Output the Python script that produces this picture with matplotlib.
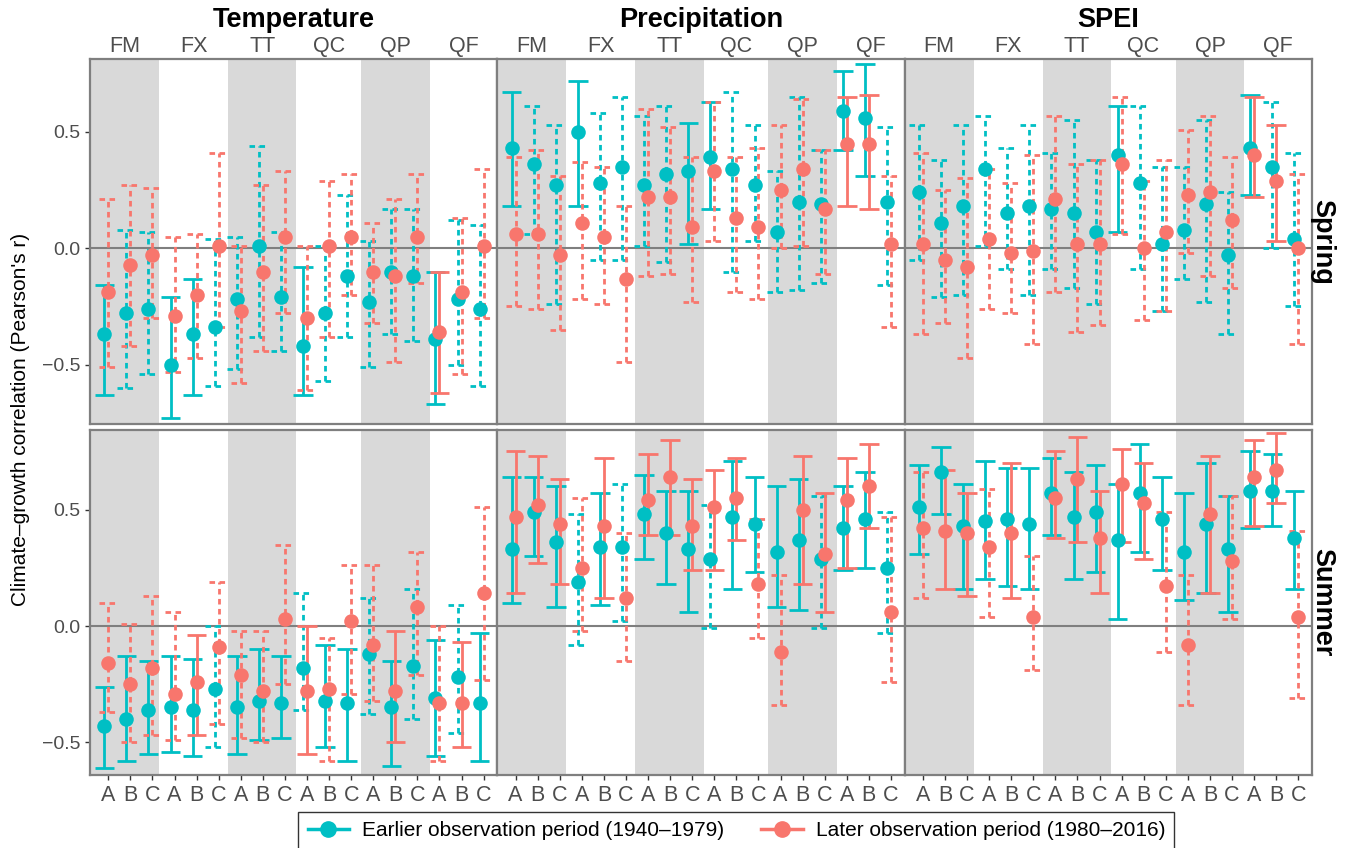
import numpy as np
import matplotlib.pyplot as plt
from matplotlib.lines import Line2D

plt.rcParams['font.family'] = ['Liberation Sans', 'DejaVu Sans']

GROUPS = ["FM", "FX", "TT", "QC", "QP", "QF"]
SITES = ["A", "B", "C"]
VARIABLES = ["Temperature", "Precipitation", "SPEI"]
SEASONS = ["Spring", "Summer"]
PERIODS = ["Earlier observation period (1940–1979)",
           "Later observation period (1980–2016)"]
COLORS = ["#00BFC4", "#F8766D"]

# (r, lower CI, upper CI, solid line?) for FM A,B,C / FX A,B,C / ... / QF A,B,C
spring_temp_early = [
    (-0.37, -0.63, -0.16, 1), (-0.28, -0.60, 0.08, 0), (-0.26, -0.54, 0.07, 0),
    (-0.50, -0.73, -0.21, 1), (-0.37, -0.63, -0.13, 1), (-0.34, -0.59, 0.04, 0),
    (-0.22, -0.52, 0.05, 0), (0.01, -0.38, 0.44, 0), (-0.21, -0.44, 0.07, 0),
    (-0.42, -0.63, -0.08, 1), (-0.28, -0.57, 0.01, 0), (-0.12, -0.38, 0.23, 0),
    (-0.23, -0.51, 0.03, 0), (-0.10, -0.37, 0.17, 0), (-0.12, -0.40, 0.17, 0),
    (-0.39, -0.67, -0.10, 1), (-0.22, -0.50, 0.12, 0), (-0.26, -0.59, 0.10, 0),
]
spring_temp_late = [
    (-0.19, -0.51, 0.21, 0), (-0.07, -0.42, 0.27, 0), (-0.03, -0.30, 0.26, 0),
    (-0.29, -0.53, 0.05, 0), (-0.20, -0.47, 0.06, 0), (0.01, -0.34, 0.41, 0),
    (-0.27, -0.58, 0.01, 0), (-0.10, -0.44, 0.27, 0), (0.05, -0.28, 0.33, 0),
    (-0.30, -0.61, 0.01, 0), (0.01, -0.38, 0.29, 0), (0.05, -0.20, 0.32, 0),
    (-0.10, -0.32, 0.11, 0), (-0.12, -0.49, 0.21, 0), (0.05, -0.15, 0.32, 0),
    (-0.36, -0.62, -0.10, 1), (-0.19, -0.54, 0.13, 0), (0.01, -0.30, 0.34, 0),
]
spring_prec_early = [
    (0.43, 0.18, 0.67, 1), (0.36, 0.06, 0.61, 0), (0.27, -0.24, 0.53, 0),
    (0.50, 0.18, 0.72, 1), (0.28, -0.05, 0.58, 0), (0.35, -0.05, 0.65, 0),
    (0.27, 0.01, 0.57, 0), (0.32, -0.06, 0.61, 0), (0.33, 0.02, 0.54, 1),
    (0.39, 0.17, 0.63, 1), (0.34, -0.10, 0.67, 0), (0.27, 0.03, 0.53, 0),
    (0.07, -0.19, 0.33, 0), (0.20, -0.18, 0.65, 0), (0.19, -0.15, 0.42, 0),
    (0.59, 0.42, 0.76, 1), (0.56, 0.31, 0.79, 1), (0.20, -0.16, 0.52, 0),
]
spring_prec_late = [
    (0.06, -0.25, 0.39, 0), (0.06, -0.26, 0.42, 0), (-0.03, -0.35, 0.31, 0),
    (0.11, -0.22, 0.37, 0), (0.05, -0.24, 0.35, 0), (-0.13, -0.49, 0.18, 0),
    (0.22, -0.12, 0.60, 0), (0.22, -0.11, 0.52, 0), (0.09, -0.23, 0.39, 0),
    (0.33, 0.03, 0.63, 0), (0.13, -0.19, 0.39, 0), (0.09, -0.22, 0.43, 0),
    (0.25, 0.00, 0.53, 0), (0.34, 0.01, 0.64, 0), (0.17, -0.11, 0.42, 0),
    (0.45, 0.18, 0.65, 1), (0.45, 0.17, 0.66, 1), (0.02, -0.34, 0.31, 0),
]
spring_spei_early = [
    (0.24, -0.05, 0.53, 0), (0.11, -0.21, 0.38, 0), (0.18, -0.20, 0.53, 0),
    (0.34, 0.01, 0.57, 0), (0.15, -0.09, 0.43, 0), (0.18, -0.20, 0.53, 0),
    (0.17, -0.09, 0.41, 0), (0.15, -0.17, 0.55, 0), (0.07, -0.24, 0.38, 0),
    (0.40, 0.07, 0.61, 1), (0.28, -0.09, 0.61, 0), (0.02, -0.27, 0.35, 0),
    (0.08, -0.13, 0.35, 0), (0.19, -0.23, 0.55, 0), (-0.03, -0.37, 0.24, 0),
    (0.43, 0.23, 0.66, 1), (0.35, 0.00, 0.63, 0), (0.04, -0.25, 0.41, 0),
]
spring_spei_late = [
    (0.02, -0.37, 0.41, 0), (-0.05, -0.32, 0.25, 0), (-0.08, -0.47, 0.30, 0),
    (0.04, -0.26, 0.34, 0), (-0.02, -0.28, 0.28, 0), (-0.01, -0.41, 0.40, 0),
    (0.21, -0.19, 0.57, 0), (0.02, -0.36, 0.36, 0), (0.02, -0.33, 0.38, 0),
    (0.36, 0.06, 0.65, 0), (0.00, -0.31, 0.29, 0), (0.07, -0.27, 0.38, 0),
    (0.23, -0.02, 0.51, 0), (0.24, -0.12, 0.57, 0), (0.12, -0.17, 0.39, 0),
    (0.40, 0.22, 0.65, 1), (0.29, 0.03, 0.53, 1), (0.00, -0.41, 0.32, 0),
]
summer_temp_early = [
    (-0.43, -0.61, -0.26, 1), (-0.40, -0.58, -0.13, 1), (-0.36, -0.55, -0.15, 1),
    (-0.35, -0.54, -0.13, 1), (-0.36, -0.56, -0.14, 1), (-0.27, -0.52, 0.00, 0),
    (-0.35, -0.55, -0.13, 1), (-0.32, -0.49, -0.10, 1), (-0.33, -0.48, -0.13, 1),
    (-0.18, -0.36, 0.14, 0), (-0.32, -0.52, -0.08, 1), (-0.33, -0.58, -0.10, 1),
    (-0.12, -0.38, 0.12, 0), (-0.35, -0.60, -0.15, 1), (-0.17, -0.40, 0.16, 0),
    (-0.31, -0.56, -0.06, 1), (-0.22, -0.46, 0.09, 0), (-0.33, -0.58, -0.03, 1),
]
summer_temp_late = [
    (-0.16, -0.37, 0.10, 0), (-0.25, -0.50, 0.01, 0), (-0.18, -0.47, 0.13, 0),
    (-0.29, -0.49, 0.06, 0), (-0.24, -0.47, -0.04, 1), (-0.09, -0.42, 0.19, 0),
    (-0.21, -0.48, -0.02, 0), (-0.28, -0.50, -0.02, 0), (0.03, -0.25, 0.35, 0),
    (-0.28, -0.55, 0.00, 1), (-0.27, -0.58, -0.05, 0), (0.02, -0.29, 0.26, 0),
    (-0.08, -0.32, 0.26, 0), (-0.28, -0.50, -0.02, 1), (0.08, -0.21, 0.32, 0),
    (-0.33, -0.58, 0.00, 0), (-0.33, -0.52, -0.07, 1), (0.14, -0.23, 0.51, 0),
]
summer_prec_early = [
    (0.33, 0.10, 0.64, 1), (0.49, 0.30, 0.64, 1), (0.36, 0.08, 0.60, 1),
    (0.19, -0.08, 0.48, 0), (0.34, 0.09, 0.57, 1), (0.34, 0.02, 0.61, 0),
    (0.48, 0.29, 0.65, 1), (0.40, 0.18, 0.58, 1), (0.33, 0.06, 0.58, 1),
    (0.29, -0.01, 0.52, 0), (0.47, 0.16, 0.71, 1), (0.44, 0.23, 0.64, 1),
    (0.32, 0.08, 0.60, 1), (0.37, 0.07, 0.63, 1), (0.29, -0.01, 0.56, 0),
    (0.42, 0.24, 0.60, 1), (0.46, 0.25, 0.66, 1), (0.25, -0.03, 0.49, 0),
]
summer_prec_late = [
    (0.47, 0.14, 0.75, 1), (0.52, 0.27, 0.73, 1), (0.44, 0.18, 0.63, 1),
    (0.25, -0.02, 0.55, 0), (0.43, 0.12, 0.72, 1), (0.12, -0.15, 0.40, 0),
    (0.54, 0.39, 0.74, 1), (0.64, 0.39, 0.80, 1), (0.43, 0.24, 0.63, 1),
    (0.51, 0.24, 0.67, 1), (0.55, 0.37, 0.72, 1), (0.18, -0.05, 0.46, 0),
    (-0.11, -0.34, 0.22, 0), (0.50, 0.18, 0.73, 1), (0.31, 0.06, 0.57, 1),
    (0.54, 0.25, 0.72, 1), (0.60, 0.42, 0.78, 1), (0.06, -0.24, 0.47, 0),
]
summer_spei_early = [
    (0.51, 0.31, 0.69, 1), (0.66, 0.48, 0.77, 1), (0.43, 0.16, 0.61, 1),
    (0.45, 0.20, 0.71, 1), (0.46, 0.17, 0.68, 1), (0.44, 0.16, 0.68, 1),
    (0.57, 0.39, 0.72, 1), (0.47, 0.20, 0.66, 1), (0.49, 0.23, 0.69, 1),
    (0.37, 0.03, 0.61, 1), (0.57, 0.32, 0.78, 1), (0.46, 0.24, 0.64, 1),
    (0.32, 0.11, 0.57, 1), (0.44, 0.14, 0.70, 1), (0.33, 0.06, 0.56, 1),
    (0.58, 0.42, 0.75, 1), (0.58, 0.43, 0.74, 1), (0.38, 0.16, 0.58, 1),
]
summer_spei_late = [
    (0.42, 0.12, 0.66, 0), (0.41, 0.16, 0.67, 1), (0.40, 0.13, 0.57, 1),
    (0.34, 0.04, 0.59, 0), (0.40, 0.12, 0.70, 1), (0.04, -0.19, 0.30, 0),
    (0.55, 0.38, 0.75, 1), (0.63, 0.36, 0.81, 1), (0.38, 0.14, 0.58, 1),
    (0.61, 0.36, 0.76, 1), (0.53, 0.29, 0.70, 1), (0.17, -0.11, 0.49, 0),
    (-0.08, -0.34, 0.22, 0), (0.48, 0.14, 0.73, 1), (0.28, 0.03, 0.56, 0),
    (0.64, 0.43, 0.80, 1), (0.67, 0.53, 0.83, 1), (0.04, -0.31, 0.41, 0),
]

panel_data = {
    ("Spring", "Temperature"): (spring_temp_early, spring_temp_late),
    ("Spring", "Precipitation"): (spring_prec_early, spring_prec_late),
    ("Spring", "SPEI"): (spring_spei_early, spring_spei_late),
    ("Summer", "Temperature"): (summer_temp_early, summer_temp_late),
    ("Summer", "Precipitation"): (summer_prec_early, summer_prec_late),
    ("Summer", "SPEI"): (summer_spei_early, summer_spei_late),
}
ylims = {"Spring": (-0.755, 0.813), "Summer": (-0.640, 0.842)}

x_pos = np.arange(1, 19)
dodge = [-0.18, 0.0]
cap = 0.44
shade_edges = [0.17, 3.3, 6.42, 9.52, 12.45, 15.55, 18.62]

fig, axes = plt.subplots(2, 3, figsize=(13.51, 8.48), dpi=100,
                         gridspec_kw=dict(height_ratios=[365, 345]))
fig.subplots_adjust(left=0.0666, right=0.9711, top=0.9304, bottom=0.0861,
                    wspace=0, hspace=0.017)

for i, season in enumerate(SEASONS):
    for j, var in enumerate(VARIABLES):
        ax = axes[i, j]
        ax.set_xlim(shade_edges[0], shade_edges[-1])
        ax.set_ylim(*ylims[season])
        for k in range(0, 6, 2):
            ax.axvspan(shade_edges[k], shade_edges[k + 1], color="#D9D9D9", lw=0, zorder=0)
        ax.axhline(0, color="#7F7F7F", lw=1.5, zorder=1)
        series = panel_data[(season, var)]
        for p, rows in enumerate(series):
            xs = x_pos + dodge[p]
            for x, (r, lo, hi, solid) in zip(xs, rows):
                ls = "-" if solid else (0, (2.0, 1.6))
                ax.vlines(x, lo, hi, color=COLORS[p], lw=2.0, linestyles=[ls], zorder=2)
                ax.hlines([lo, hi], x - cap, x + cap, color=COLORS[p], lw=2.0,
                          linestyles=[ls], zorder=2)
        for p, rows in enumerate(series):
            xs = x_pos + dodge[p]
            ax.scatter(xs, [row[0] for row in rows], s=110, color=COLORS[p],
                       lw=0, zorder=3)
        for s in ax.spines.values():
            s.set_color("#7F7F7F")
            s.set_linewidth(1.6)
        ax.set_yticks([-0.5, 0.0, 0.5])
        ax.set_xticks(x_pos)
        ax.tick_params(length=3.5, width=1, color="#333333", labelcolor="#4D4D4D",
                       labelsize=14)
        if j == 0:
            ax.set_yticklabels(["−0.5", "0.0", "0.5"])
        else:
            ax.tick_params(axis="y", left=False, labelleft=False)
        if i == 1:
            ax.set_xticklabels(SITES * 6, fontsize=15.5)
            ax.tick_params(axis="x", pad=4)
        else:
            ax.tick_params(axis="x", bottom=False, labelbottom=False)
            for k, g in enumerate(GROUPS):
                xc = (shade_edges[k] + shade_edges[k + 1]) / 2
                ax.text(xc, 1.005, g, transform=ax.get_xaxis_transform(),
                        ha="center", va="bottom", fontsize=15.5, color="#4D4D4D")
            ax.text(0.5, 1.072, var, transform=ax.transAxes, ha="center",
                    va="bottom", fontsize=19.5, fontweight="bold")
        if j == 2:
            ax.text(1.026, 0.5, season, transform=ax.transAxes, rotation=270,
                    ha="center", va="center", fontsize=19.5, fontweight="bold")

fig.text(0.015, 0.505, "Climate–growth correlation (Pearson's r)", rotation=90,
         ha="center", va="center", fontsize=15)

handles = [Line2D([0], [0], color=c, lw=2.5, marker="o", markersize=11)
           for c in COLORS]
leg = fig.legend(handles, PERIODS, loc="lower center", ncol=2,
                 bbox_to_anchor=(0.545, -0.014), frameon=True, fancybox=False,
                 fontsize=15, handlelength=2.0, columnspacing=1.8,
                 borderpad=0.45, handletextpad=0.6)
leg.get_frame().set_edgecolor("black")
leg.get_frame().set_linewidth(1.0)

fig.savefig("out.png", dpi=100)
